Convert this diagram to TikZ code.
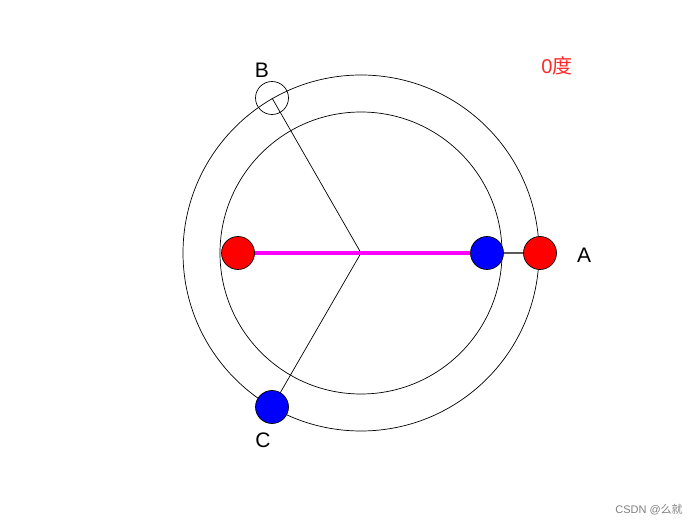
\documentclass[tikz,border=0pt]{standalone}
\usepackage{fontspec}
\setmainfont{Liberation Sans}
\newfontfamily\cjk{Noto Sans CJK SC}
\definecolor{pmag}{RGB}{255,0,255}
\definecolor{lred}{RGB}{255,40,40}
\begin{document}
\begin{tikzpicture}[x=1pt,y=-1pt,
  ring/.style={draw=black,line width=0.7pt},
  spoke/.style={draw=black,line width=0.7pt},
  dot/.style={circle,draw=black,line width=0.7pt,minimum size=33pt,inner sep=0pt},
  lbl/.style={font=\fontsize{21}{24}\selectfont,inner sep=0pt}]
\useasboundingbox (0,0) rectangle (699,526);
\coordinate (O) at (361,253);
\draw[ring] (O) circle (178);
\draw[ring] (O) circle (141);
\coordinate (Bc) at (272,98);
\coordinate (Cc) at (272,407);
\coordinate (Ac) at (540,253);
\draw[spoke] (O) -- (Bc);
\draw[spoke] (O) -- (Cc);
\draw[draw=gray!70!black,line width=1.2pt] (O) -- (Ac);
\draw[draw=pmag,line width=4pt] (238,253) -- (487,253);
\node[dot,fill=red] (RL) at (238,253) {};
\node[dot,fill=blue] (BL) at (487,253) {};
\node[dot,fill=red] (RA) at (Ac) {};
\node[dot,fill=blue] (CC) at (Cc) {};
\node[dot,fill=none] (BB) at (Bc) {};
\node[lbl] (la) at (584,255) {A};
\node[lbl] (lb) at (262,70) {B};
\node[lbl] (lc) at (263,440) {C};
\node[lbl,text=lred,font=\fontsize{20}{24}\selectfont] (deg) at (557,66) {0{\cjk 度}};
\node[font=\fontsize{11}{13}\selectfont,text=gray,inner sep=0pt] (wm) at (649,510) {CSDN @{\cjk 么就}};
\end{tikzpicture}
\end{document}
